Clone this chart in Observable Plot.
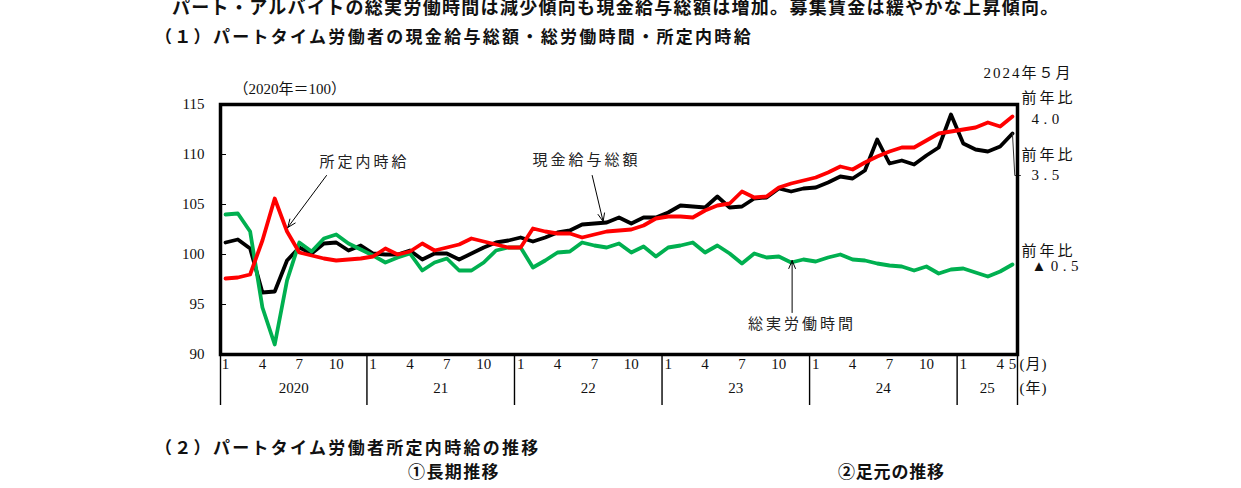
<!DOCTYPE html>
<html><head><meta charset="utf-8">
<script src="https://cdn.jsdelivr.net/npm/d3@7"></script>
<script src="https://cdn.jsdelivr.net/npm/@observablehq/plot@0.6"></script>
<style>
html,body{margin:0;padding:0;background:#fff;width:1241px;height:488px;overflow:hidden;}
.jp{position:absolute;font-family:"Noto Sans CJK JP","Noto Sans",sans-serif;color:#111;white-space:nowrap;line-height:20px;}
#hdr,#ftr{position:relative;width:1241px;}
#hdr{height:60px;}
#ftr{height:68px;}
#chart{height:360px;}
</style></head>
<body>
<div id="hdr">
  <div class="jp" style="left:172px;top:-4px;font-size:18px;font-weight:bold;letter-spacing:1.3px;">パート・アルバイトの総実労働時間は減少傾向も現金給与総額は増加。募集賃金は緩やかな上昇傾向。</div>
  <div class="jp" style="left:155px;top:26px;font-size:17px;font-weight:bold;letter-spacing:2.3px;">（１）パートタイム労働者の現金給与総額・総労働時間・所定内時給</div>
</div>
<div id="chart"></div>
<div id="ftr">
  <div class="jp" style="left:155px;top:17px;font-size:17px;font-weight:bold;letter-spacing:2.3px;">（２）パートタイム労働者所定内時給の推移</div>
  <div class="jp" style="left:408px;top:41px;font-size:17px;font-weight:bold;letter-spacing:1.4px;">①長期推移</div>
  <div class="jp" style="left:838px;top:41px;font-size:17px;font-weight:bold;letter-spacing:0.8px;">②足元の推移</div>
</div>
<script>
// Monthly index, 2020=100, Jan 2020 (index 0) .. May 2025 (index 64)
const years = [2020, 2021, 2022, 2023, 2024, 2025];
const yearLabels = ["2020", "21", "22", "23", "24", "25"];
const tickMonths = [1, 4, 7, 10];
const lastYearMonths = [1, 4, 5];
const yTicks = [90, 95, 100, 105, 110, 115];

// 現金給与総額 (black)
const cashEarnings = [
  101.2,101.5,100.6,96.2,96.3,99.4,100.7,100.1,101.1,101.2,100.4,100.9,
  100.1,100.0,100.0,100.4,99.5,100.1,100.1,99.5,100.1,100.7,101.2,101.4,
  101.7,101.3,101.7,102.2,102.4,103.0,103.1,103.2,103.7,103.1,103.7,103.7,
  104.2,104.9,104.8,104.7,105.8,104.7,104.8,105.6,105.7,106.6,106.3,106.6,
  106.7,107.2,107.8,107.6,108.4,111.5,109.1,109.4,109.0,109.9,110.7,114.0,
  111.1,110.5,110.3,110.8,112.1
];
// 総実労働時間 (green)
const hoursWorked = [
  104.0,104.1,102.3,94.7,91.0,97.4,101.2,100.3,101.6,102.0,101.1,100.5,
  99.9,99.2,99.7,100.1,98.4,99.2,99.6,98.4,98.4,99.2,100.4,100.7,
  100.7,98.7,99.4,100.2,100.3,101.2,100.9,100.7,101.1,100.2,100.8,99.8,
  100.7,100.9,101.2,100.2,100.9,100.1,99.1,100.1,99.7,99.8,99.2,99.5,
  99.3,99.7,100.0,99.5,99.4,99.1,98.9,98.8,98.4,98.8,98.1,98.5,
  98.6,98.2,97.8,98.3,99.0
];
// 所定内時給 (red)
const hourlyWage = [
  97.6,97.7,98.0,101.4,105.6,102.3,100.2,99.9,99.6,99.4,99.5,99.6,
  99.8,100.6,100.0,100.3,101.1,100.4,100.7,101.0,101.6,101.3,101.0,100.7,
  100.7,102.6,102.3,102.1,102.1,101.7,102.0,102.3,102.4,102.5,102.9,103.6,
  103.8,103.8,103.7,104.4,104.9,105.1,106.3,105.7,105.8,106.7,107.1,107.4,
  107.7,108.2,108.8,108.5,109.2,109.8,110.3,110.7,110.7,111.4,112.1,112.3,
  112.5,112.7,113.2,112.8,113.8
];

// in-chart labels (month index, value)
const seriesLabels = [
  {label: "所定内時給", i: 11.3, v: 109.2},
  {label: "現金給与総額", i: 29.36, v: 109.4},
  {label: "総実労働時間", i: 46.88, v: 93.0}
];
const labelArrows = [
  {i1: 8.21, v1: 107.9, i2: 5.06, v2: 102.7},
  {i1: 29.82, v1: 107.9, i2: 30.71, v2: 103.3},
  {i1: 46.08, v1: 94.2, i2: 46.08, v2: 99.4}
];
// right-side notes
const noteHead = [{label: "2024年５月", v: 118.1}];
const noteWords = [{label: "前年比", v: 115.6}, {label: "前年比", v: 109.9}, {label: "前年比", v: 100.3}];
const noteNums = [{label: "4.0", v: 113.5}, {label: "3.5", v: 107.9}, {label: "▲0.5", v: 98.8}];
const leaderEnd = [{i: 64.19, v: 107.9}, {i: 64.65, v: 107.9}];

const xDomain = [-0.41, 64.41];
const toRows = arr => arr.map((v, i) => ({i, v}));

const monthTickRows = [];
years.forEach((y, k) => {
  const ms = y === 2025 ? lastYearMonths : tickMonths;
  ms.forEach(m => monthTickRows.push({i: k * 12 + m - 1, m: String(m)}));
});
const boundaries = [xDomain[0], ...years.slice(1).map((y, k) => (k + 1) * 12 - 0.5), xDomain[1]];
const yearRows = yearLabels.map((l, k) => ({label: l, i: (boundaries[k] + boundaries[k + 1]) / 2}));
const leader = [{i: 64, v: cashEarnings[64]}, ...leaderEnd];

const frameW = 1241 - 220 - 224;

const chart = Plot.plot({
  width: 1241, height: 360,
  marginTop: 44, marginBottom: 66, marginLeft: 220, marginRight: 224,
  x: {domain: xDomain, axis: null},
  y: {domain: [90, 115], axis: null},
  style: {fontFamily: "'Liberation Serif','Noto Sans CJK JP',serif", fontSize: "15px", background: "white", color: "#111", overflow: "visible"},
  marks: [
    Plot.axisY(yTicks, {anchor: "left", tickSize: 0, tickPadding: 16, fontSize: 15, label: null}),
    Plot.tickY(yTicks.slice(1, -1), {y: d => d, stroke: "black", strokeWidth: 1, insetRight: frameW - 6}),
    Plot.line(toRows(cashEarnings), {x: "i", y: "v", stroke: "#000000", strokeWidth: 3.8}),
    Plot.line(toRows(hoursWorked), {x: "i", y: "v", stroke: "#00B050", strokeWidth: 3.8}),
    Plot.line(toRows(hourlyWage), {x: "i", y: "v", stroke: "#FF0000", strokeWidth: 3.8}),
    Plot.line(leader, {x: "i", y: "v", stroke: "#333", strokeWidth: 1}),
    Plot.arrow(labelArrows, {x1: "i1", y1: "v1", x2: "i2", y2: "v2", stroke: "black", strokeWidth: 1, headLength: 13, headAngle: 45}),
    Plot.text(seriesLabels, {x: "i", y: "v", text: "label", fontSize: 15, fill: "#222"}),
    Plot.frame({stroke: "black", strokeWidth: 3.5}),
    // x axis (month / year)
    Plot.text(monthTickRows, {x: "i", text: "m", frameAnchor: "bottom", dy: 14, fontSize: 15}),
    Plot.text(yearRows, {x: "i", text: "label", frameAnchor: "bottom", dy: 38, fontSize: 15}),
    Plot.ruleX(boundaries, {x: d => d, stroke: "black", strokeWidth: 1.4, insetTop: 250, insetBottom: -51}),
    Plot.text(["(月)"], {x: () => xDomain[1], text: d => d, frameAnchor: "bottom", dy: 14, dx: 2, textAnchor: "start", fontSize: 15}),
    Plot.text(["(年)"], {x: () => xDomain[1], text: d => d, frameAnchor: "bottom", dy: 38, dx: 2, textAnchor: "start", fontSize: 15}),
    Plot.text([{label: "（2020年＝100）", v: 116.5}], {x: () => 0.65, y: "v", text: "label", textAnchor: "start", fontSize: 15}),
    // right notes
    Plot.text(noteHead, {x: () => xDomain[1], y: "v", text: "label", textAnchor: "start", dx: -34, fontSize: 15}),
    Plot.text(noteWords, {x: () => xDomain[1], y: "v", text: "label", textAnchor: "start", dx: 4, fontSize: 15}),
    Plot.text(noteNums, {x: () => xDomain[1], y: "v", text: "label", textAnchor: "start", dx: 14, fontSize: 15})
  ]
});
const spacing = new Map([
  ...seriesLabels.map(d => [d.label, "3px"]),
  ...noteWords.map(d => [d.label, "3px"]),
  ...noteHead.map(d => [d.label, "2px"]),
  ...noteNums.map(d => [d.label, "4.5px"]),
  ["(月)", "1px"], ["(年)", "1px"]
]);
d3.select(chart).selectAll("text").each(function() {
  const s = spacing.get(this.textContent);
  if (s) this.style.letterSpacing = s;
});
document.getElementById("chart").appendChild(chart);
</script>
</body></html>
